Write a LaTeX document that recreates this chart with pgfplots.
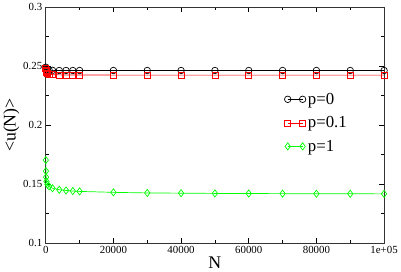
\documentclass[border=0pt]{standalone}
\usepackage{fontspec}
\setmainfont{Liberation Serif}
\usepackage{pgfplots}
\pgfplotsset{compat=1.18}
\begin{document}
\begin{tikzpicture}
\begin{axis}[
  scale only axis,
  width=341bp, height=238bp,
  xmin=0, xmax=100000, ymin=0.1, ymax=0.3,
  xtick={0,20000,40000,60000,80000,100000},
  xticklabels={0,20000,40000,60000,80000,1e+05},
  minor xtick={10000,30000,50000,70000,90000},
  ytick={0.1,0.15,0.2,0.25,0.3},
  yticklabels={0.1,0.15,0.2,0.25,0.3},
  minor ytick={0.125,0.175,0.225,0.275},
  scaled x ticks=false,
  tick align=inside,
  major tick length=5bp, minor tick length=3bp,
  every tick/.style={black, line width=0.6pt},
  axis line style={line width=0.8pt, black!80},
  tick label style={font=\fontsize{11}{12}\selectfont},
  /pgf/number format/assume math mode=true,
  xlabel={N}, ylabel={<u(N)>},
  label style={font=\fontsize{18}{19}\selectfont},
  xlabel style={yshift=4bp},
  ylabel style={yshift=-3bp},
  legend cell align=left,
  legend style={draw=none, fill=none, at={(0.705,0.645)}, anchor=north west,
    font=\fontsize{17}{18}\selectfont, row sep=7bp, inner sep=0pt},
  legend image code/.code={\draw[mark repeat=1,mark phase=1] plot coordinates {(0bp,0bp) (15bp,0bp)};},
]
\addplot[black, line width=0.7pt, mark=o, mark size=3.3bp, mark options={solid}] coordinates {
(10,0.2490) (50,0.2482) (100,0.2476) (200,0.2471) (500,0.2466) (1000,0.2464)
(2000,0.2463) (4000,0.2462) (6000,0.2462) (8000,0.2462) (10000,0.2462)
(20000,0.2462) (30000,0.2462) (40000,0.2462) (50000,0.2462) (60000,0.2462)
(70000,0.2462) (80000,0.2462) (90000,0.2462) (100000,0.2462)};
\addlegendentry{p=0}
\addplot[red, line width=0.7pt, mark=square, mark size=3bp] coordinates {
(10,0.2478) (50,0.2462) (100,0.2452) (200,0.2442) (500,0.2434) (1000,0.2430)
(2000,0.2427) (4000,0.2425) (6000,0.2424) (8000,0.2424) (10000,0.2424)
(20000,0.2423) (30000,0.2423) (40000,0.2423) (50000,0.2423) (60000,0.2423)
(70000,0.2423) (80000,0.2423) (90000,0.2423) (100000,0.2423)};
\addlegendentry{p=0.1}
\addplot[green, line width=0.7pt, mark=diamond, mark size=3.6bp] coordinates {
(10,0.1703) (50,0.1610) (100,0.1558) (200,0.1522) (500,0.1495) (1000,0.1480)
(2000,0.1465) (4000,0.1452) (6000,0.1446) (8000,0.1441) (10000,0.1438)
(20000,0.1430) (30000,0.1425) (40000,0.1423) (50000,0.1421) (60000,0.1420)
(70000,0.1419) (80000,0.1418) (90000,0.1418) (100000,0.1417)};
\addlegendentry{p=1}
\end{axis}
\end{tikzpicture}
\end{document}
